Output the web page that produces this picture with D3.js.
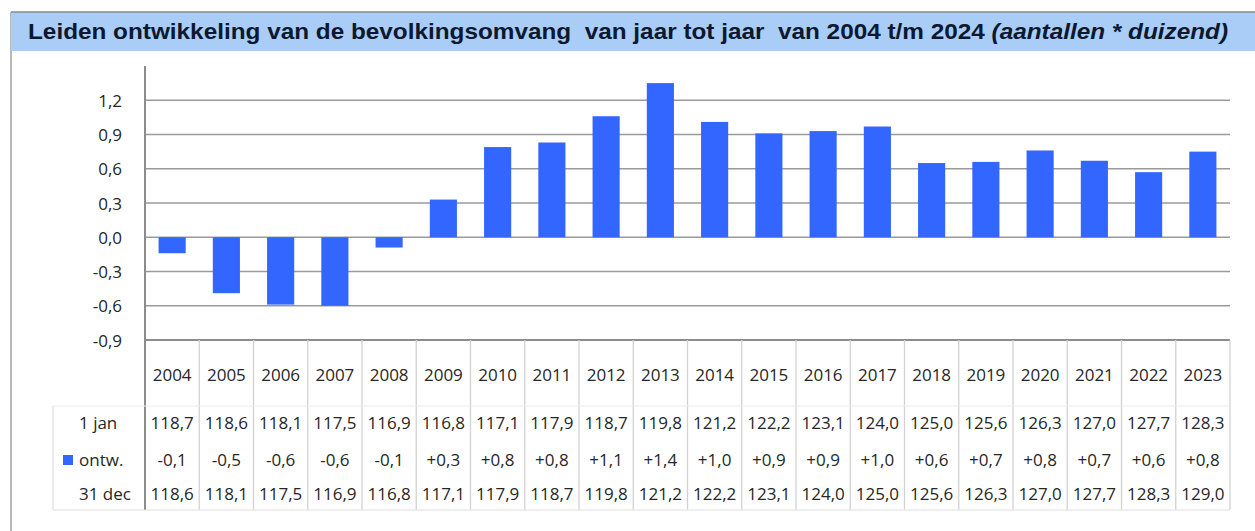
<!DOCTYPE html>
<html>
<head>
<meta charset="utf-8">
<script src="https://cdn.jsdelivr.net/npm/d3@7"></script>
<style>
  html, body { margin: 0; padding: 0; background: #ffffff; }
  svg { display: block; }
  text { white-space: pre; }
</style>
</head>
<body>
<svg id="chart" width="1255" height="531"></svg>
<script>
// ---- data ----
const years = ['2004','2005','2006','2007','2008','2009','2010','2011','2012','2013',
               '2014','2015','2016','2017','2018','2019','2020','2021','2022','2023'];
const ontw = [-0.14,-0.49,-0.59,-0.60,-0.09,0.33,0.79,0.83,1.06,1.35,
              1.01,0.91,0.93,0.97,0.65,0.66,0.76,0.67,0.57,0.75];
const jan1Labels = ['118,7','118,6','118,1','117,5','116,9','116,8','117,1','117,9','118,7','119,8',
                    '121,2','122,2','123,1','124,0','125,0','125,6','126,3','127,0','127,7','128,3'];
const ontwLabels = ['-0,1','-0,5','-0,6','-0,6','-0,1','+0,3','+0,8','+0,8','+1,1','+1,4',
                    '+1,0','+0,9','+0,9','+1,0','+0,6','+0,7','+0,8','+0,7','+0,6','+0,8'];
const dec31Labels = ['118,6','118,1','117,5','116,9','116,8','117,1','117,9','118,7','119,8','121,2',
                     '122,2','123,1','124,0','125,0','125,6','126,3','127,0','127,7','128,3','129,0'];
const yTicks = [-0.9,-0.6,-0.3,0.0,0.3,0.6,0.9,1.2];
const rowNames = ['1 jan','ontw.','31 dec'];
const titleMain = 'Leiden ontwikkeling van de bevolkingsomvang  van jaar tot jaar  van 2004 t/m 2024 ';
const titleItalic = '(aantallen * duizend)';

// ---- layout ----
const svg = d3.select('#chart');
const plotL = 145, plotR = 1230, plotT = 66, plotB = 340;
const tableB = 510, dataTop = 406, tableLabelL = 53;
const barColor = '#3366ff';
const textColor = '#262626';
const tableFont = "'Open Sans', 'Noto Sans', sans-serif";

const x = d3.scaleBand().domain(years).range([plotL, plotR]).paddingInner(0.5).paddingOuter(0.25);
const col = d3.scaleBand().domain(years).range([plotL, plotR]).padding(0);
const y = d3.scaleLinear().domain([-0.9, 1.5]).range([plotB, plotT]);
const fmt = v => d3.format('.1f')(v).replace('.', ',').replace('−', '-');

// outer frame (left + top)
svg.append('line').attr('x1', 11).attr('x2', 11).attr('y1', 12).attr('y2', 531)
  .attr('stroke', '#a0a0a0').attr('stroke-width', 1.5);

// title bar
svg.append('rect').attr('x', 11).attr('y', 12).attr('width', 1255 - 11).attr('height', 39)
  .attr('fill', '#a9cdf6');
svg.append('line').attr('x1', 11).attr('x2', 1255).attr('y1', 12).attr('y2', 12)
  .attr('stroke', '#8a8a8a').attr('stroke-width', 1.5);
const title = svg.append('text').attr('x', 28).attr('y', 39)
  .attr('font-family', "'Liberation Sans', Arial, sans-serif")
  .attr('font-size', 22).attr('font-weight', 'bold').attr('fill', '#0c1830')
  .attr('textLength', 1200).attr('lengthAdjust', 'spacingAndGlyphs');
title.append('tspan').text(titleMain);
title.append('tspan').attr('font-style', 'italic').text(titleItalic);

// gridlines
const grid = svg.append('g');
grid.selectAll('line').data(yTicks.filter(d => d !== -0.9)).join('line')
  .attr('x1', plotL).attr('x2', plotR)
  .attr('y1', d => y(d)).attr('y2', d => y(d))
  .attr('stroke', '#9a9a9a').attr('stroke-width', 1.6);

// y axis (labels via d3 axis, custom line)
const yAxis = d3.axisLeft(y).tickValues(yTicks).tickFormat(fmt).tickSize(0).tickPadding(0);
const yg = svg.append('g').attr('transform', `translate(${plotL - 23},0)`).call(yAxis);
yg.select('.domain').remove();
yg.selectAll('text').attr('font-family', tableFont).attr('font-size', 17)
  .attr('fill', textColor).attr('dy', '0.36em');

// bars
svg.append('g').selectAll('rect').data(years).join('rect')
  .attr('x', d => x(d))
  .attr('width', x.bandwidth())
  .attr('y', (d, i) => y(Math.max(0, ontw[i])))
  .attr('height', (d, i) => Math.abs(y(ontw[i]) - y(0)))
  .attr('fill', barColor);

// axis lines
svg.append('line').attr('x1', plotL).attr('x2', plotL).attr('y1', plotT).attr('y2', tableB)
  .attr('stroke', '#8c8c8c').attr('stroke-width', 2);
svg.append('line').attr('x1', plotL).attr('x2', plotR).attr('y1', plotB).attr('y2', plotB)
  .attr('stroke', '#8c8c8c').attr('stroke-width', 2);

// table lines
const tbl = svg.append('g');
tbl.selectAll('line.v').data(years).join('line').attr('class', 'v')
  .attr('x1', d => col(d) + col.bandwidth()).attr('x2', d => col(d) + col.bandwidth())
  .attr('y1', plotB).attr('y2', tableB)
  .attr('stroke', '#d2d2d2').attr('stroke-width', 1.3);
tbl.append('line').attr('x1', tableLabelL).attr('x2', plotR).attr('y1', dataTop).attr('y2', dataTop)
  .attr('stroke', '#ececec').attr('stroke-width', 1.2);
tbl.append('line').attr('x1', tableLabelL).attr('x2', plotR).attr('y1', tableB).attr('y2', tableB)
  .attr('stroke', '#e0e0e0').attr('stroke-width', 1.2);
tbl.append('line').attr('x1', tableLabelL).attr('x2', tableLabelL).attr('y1', dataTop).attr('y2', tableB)
  .attr('stroke', '#e0e0e0').attr('stroke-width', 1.2);

// year header
const xAxis = d3.axisBottom(col).tickSize(0).tickPadding(0);
const xg = svg.append('g').attr('transform', `translate(0,${375})`).call(xAxis);
xg.select('.domain').remove();
xg.selectAll('text').attr('font-family', tableFont).attr('font-size', 17)
  .attr('fill', textColor).attr('dy', '0.36em');

// data rows
const rows = [jan1Labels, ontwLabels, dec31Labels];
const rowY = [423, 460, 494];
rows.forEach((labels, r) => {
  svg.append('g').selectAll('text').data(years).join('text')
    .attr('x', d => col(d) + col.bandwidth() / 2)
    .attr('y', rowY[r]).attr('dy', '0.36em')
    .attr('text-anchor', 'middle')
    .attr('font-family', tableFont).attr('font-size', 17)
    .attr('fill', textColor)
    .text((d, i) => labels[i]);
  svg.append('text').attr('x', 79).attr('y', rowY[r]).attr('dy', '0.36em')
    .attr('font-family', tableFont).attr('font-size', 17).attr('fill', textColor)
    .text(rowNames[r]);
});
// legend key
svg.append('rect').attr('x', 63).attr('y', rowY[1] - 5).attr('width', 10).attr('height', 10)
  .attr('fill', barColor);
</script>
</body>
</html>
